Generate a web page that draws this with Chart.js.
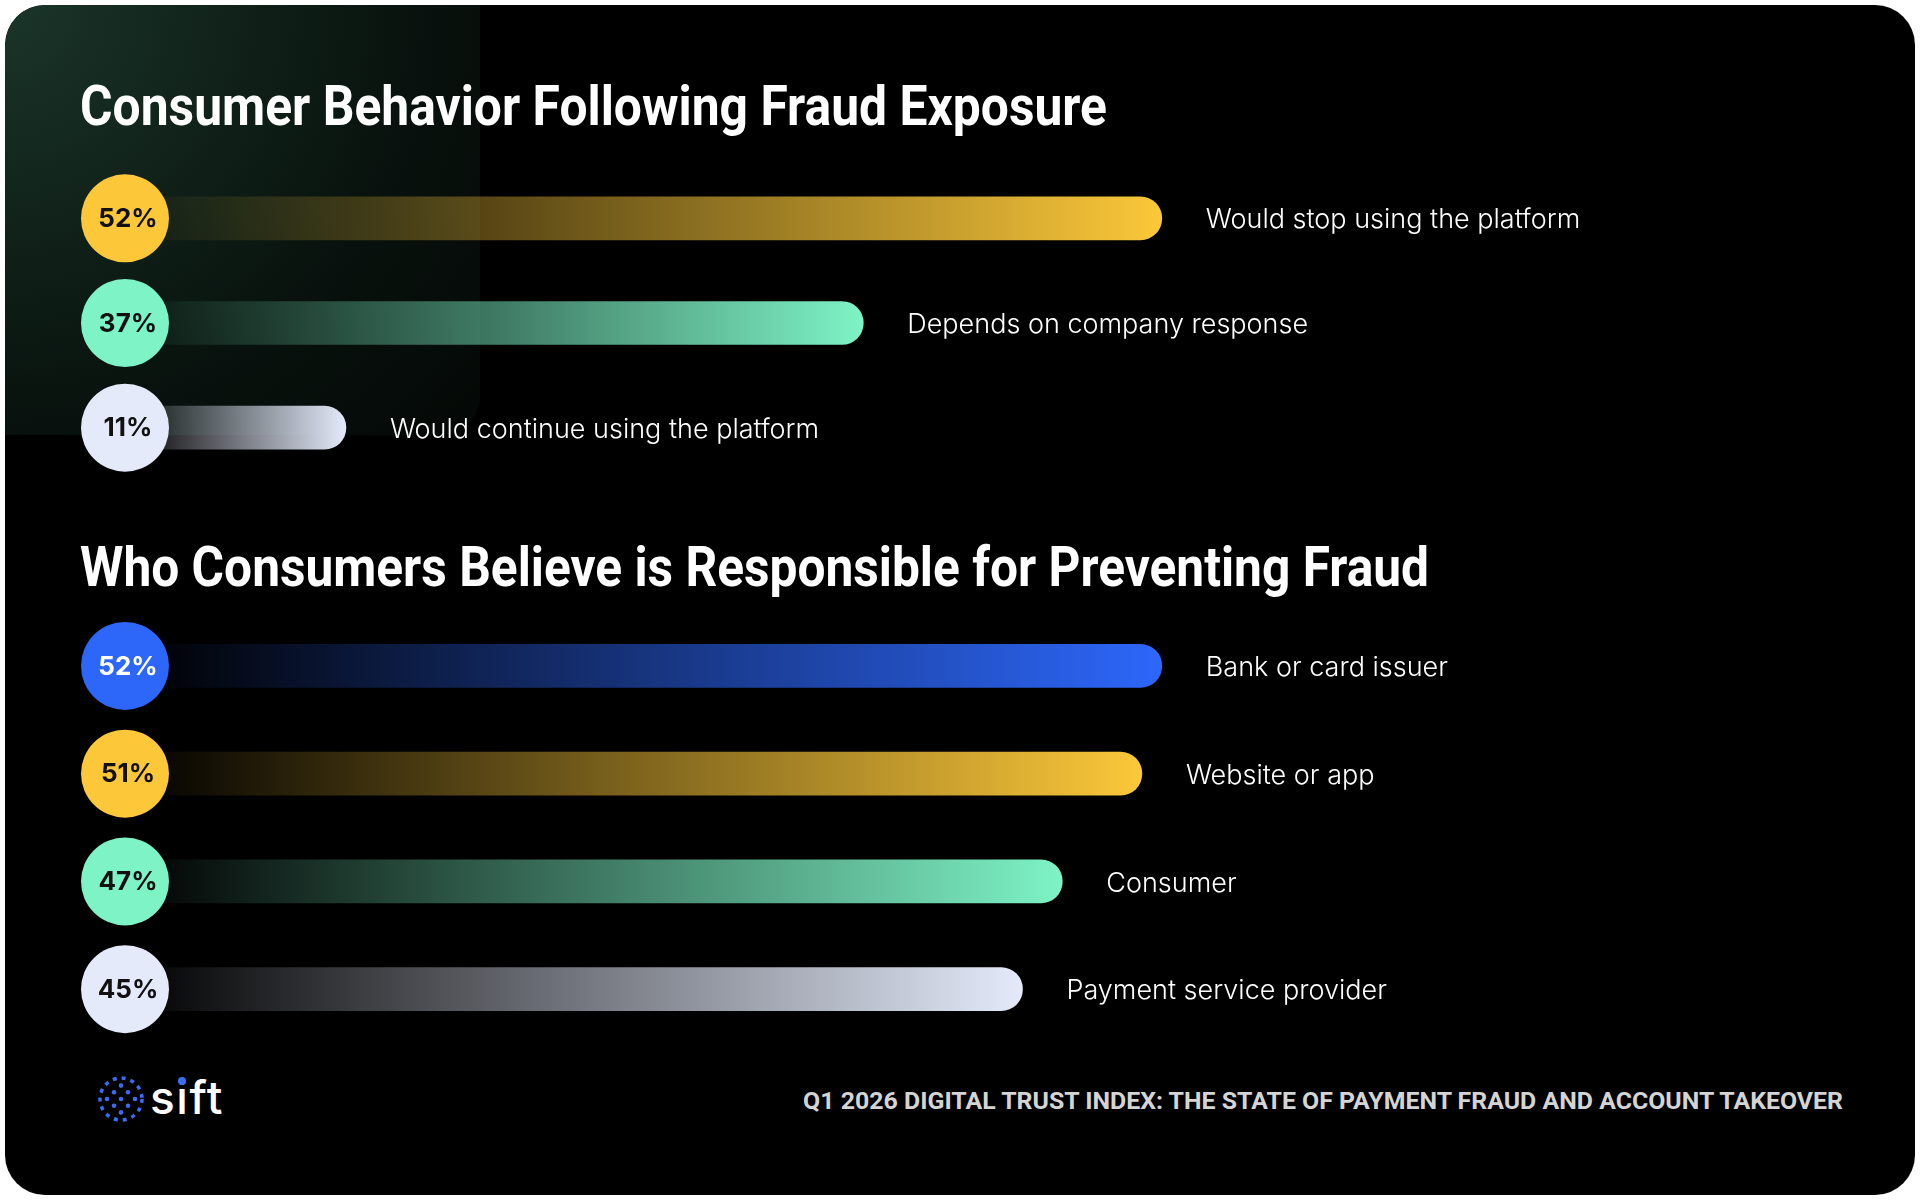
<!DOCTYPE html>
<html>
<head>
<meta charset="utf-8">
<script src="https://cdn.jsdelivr.net/npm/chart.js@4.4.1/dist/chart.umd.min.js"></script>
<style>
  html, body { margin: 0; padding: 0; background: #fff; width: 1920px; height: 1200px; overflow: hidden; }
  #card { position: absolute; left: 5px; top: 5px; width: 1910px; height: 1190px; border-radius: 40px; background: #000; overflow: hidden; }
  #glow { position: absolute; left: 0; top: 0; width: 475px; height: 430px; border-radius: 40px 0 40px 0;
          background: radial-gradient(circle at 0 0, #1b352a 0%, #11231b 33%, #08110d 66%, #040806 100%); }
  .fit { position: absolute; white-space: nowrap; line-height: 1; }
  .title { left: 80px; color: #fff; font-family: Roboto, sans-serif; font-weight: 700; font-size: 56px; transform-origin: 0 0; }
  canvas { position: absolute; left: 0; }
  #footer { right: 77px; top: 1090px; color: #d4d4d4; font-family: Roboto, sans-serif;
            font-weight: 700; font-size: 23px; transform-origin: 100% 0; }
  #siftText { position: absolute; left: 150px; top: 1074px; color: #fff; font-family: Inter, sans-serif; font-weight: 500;
              font-size: 46px; line-height: 1; letter-spacing: 1.5px; }
  #iDot { position: absolute; width: 8px; height: 8px; border-radius: 50%; background: #3b6cf2; }
  #logo { position: absolute; left: 96px; top: 1074px; }
</style>
</head>
<body>
<div id="card"><div id="glow"></div></div>

<div class="fit title" data-w="1027" style="top:78px">Consumer Behavior Following Fraud Exposure</div>
<canvas id="behaviorChart" width="1920" height="314" style="top:166px"></canvas>

<div class="fit title" data-w="1349" style="top:539px">Who Consumers Believe is Responsible for Preventing Fraud</div>
<canvas id="responsibleChart" width="1920" height="431" style="top:612px"></canvas>

<svg id="logo" width="50" height="50"></svg>
<div id="siftText">s<span id="iChar">i</span>ft</div>
<div id="iDot"></div>
<div class="fit" id="footer" data-w="1040">Q1 2026 DIGITAL TRUST INDEX: THE STATE OF PAYMENT FRAUD AND ACCOUNT TAKEOVER</div>

<script>
// data
const behaviorLabels = ['Would stop using the platform', 'Depends on company response', 'Would continue using the platform'];
const behaviorValues = [52, 37, 11];
const responsibleLabels = ['Bank or card issuer', 'Website or app', 'Consumer', 'Payment service provider'];
const responsibleValues = [52, 51, 47, 45];

// colours
const YELLOW = [252, 200, 58];
const MINT = [126, 243, 198];
const LAVENDER = [228, 234, 250];
const BLUE = [45, 103, 250];
const behaviorColors = [YELLOW, MINT, LAVENDER];
const responsibleColors = [BLUE, YELLOW, MINT, LAVENDER];
const responsibleTextColors = ['#fff', '#111', '#111', '#111'];

const rgba = (c, a) => `rgba(${c[0]},${c[1]},${c[2]},${a})`;

// circle badge + label at the end of every bar
const badgePlugin = {
  id: 'badges',
  afterDatasetsDraw(chart, args, opts) {
    const ctx = chart.ctx;
    const x0 = chart.scales.x.getPixelForValue(0);
    const ds = chart.data.datasets[0];
    chart.getDatasetMeta(0).data.forEach((bar, i) => {
      const y = bar.y;
      ctx.save();
      ctx.beginPath();
      ctx.arc(x0 - 2, y, 44, 0, Math.PI * 2);
      ctx.fillStyle = rgba(opts.colors[i], 1);
      ctx.fill();
      ctx.fillStyle = opts.textColors[i];
      ctx.font = '700 26px Inter';
      ctx.textAlign = 'center';
      ctx.textBaseline = 'middle';
      ctx.fillText(ds.data[i] + '%', x0 + 1, y + 1);
      ctx.font = '300 27px Inter';
      ctx.fillStyle = '#fff';
      ctx.textAlign = 'left';
      ctx.fillText(chart.data.labels[i], bar.x + 44, y + 2);
      ctx.restore();
    });
  }
};

function makeChart(id, labels, values, colors, textColors) {
  return new Chart(document.getElementById(id), {
    type: 'bar',
    data: {
      labels: labels,
      datasets: [{
        data: values,
        barThickness: 43,
        borderRadius: 22,
        borderSkipped: 'start',
        backgroundColor: (c) => {
          const chart = c.chart;
          const col = colors[c.dataIndex];
          if (!chart.chartArea || !chart.scales.x) return rgba(col, 1);
          const xs = chart.scales.x;
          const g = chart.ctx.createLinearGradient(xs.getPixelForValue(0), 0, xs.getPixelForValue(c.raw), 0);
          g.addColorStop(0, rgba(col, 0));
          g.addColorStop(1, rgba(col, 1));
          return g;
        }
      }]
    },
    options: {
      indexAxis: 'y',
      responsive: false,
      animation: false,
      events: [],
      layout: { padding: { left: 127, right: 201, top: 0, bottom: 0 } },
      scales: {
        x: { min: 0, max: 80, display: false },
        y: { display: false }
      },
      plugins: {
        legend: { display: false },
        tooltip: { enabled: false },
        badges: { colors: colors, textColors: textColors }
      }
    },
    plugins: [badgePlugin]
  });
}

function layoutText() {
  // squeeze headline text to the condensed width of the original
  document.querySelectorAll('.fit').forEach(el => {
    const w = el.getBoundingClientRect().width;
    el.style.transform = `scaleX(${el.dataset.w / w})`;
  });
  // blue dot on the i of "sift"
  const r = document.getElementById('iChar').getBoundingClientRect();
  const dot = document.getElementById('iDot');
  dot.style.left = (r.left + r.width / 2 - 0.75 - 4) + 'px';
  dot.style.top = (r.top + 12 - 4) + 'px';
}

Promise.all([
  document.fonts.load('700 26px Inter'),
  document.fonts.load('300 27px Inter'),
  document.fonts.load('500 46px Inter'),
  document.fonts.load('700 56px Roboto')
]).finally(() => {
  layoutText();
  makeChart('behaviorChart', behaviorLabels, behaviorValues, behaviorColors, ['#111', '#111', '#111']);
  makeChart('responsibleChart', responsibleLabels, responsibleValues, responsibleColors, responsibleTextColors);
});

// sift logo: dotted disc
(function () {
  const svg = document.getElementById('logo');
  const cx = 25, cy = 25, r = 21;
  let s = '';
  for (let i = -3; i <= 3; i++) {
    for (let j = -3; j <= 3; j++) {
      if ((i + j) % 2 !== 0) continue;
      const x = cx + i * 7, y = cy + j * 6.7;
      if (Math.hypot(x - cx, y - cy) <= r - 2) s += `<circle cx="${x}" cy="${y}" r="2.3" fill="#3b6cf2"/>`;
    }
  }
  s += `<circle cx="${cx}" cy="${cy}" r="${r}" fill="none" stroke="#3b6cf2" stroke-width="3.5" stroke-dasharray="4 5"/>`;
  svg.innerHTML = s;
})();
</script>
</body>
</html>
